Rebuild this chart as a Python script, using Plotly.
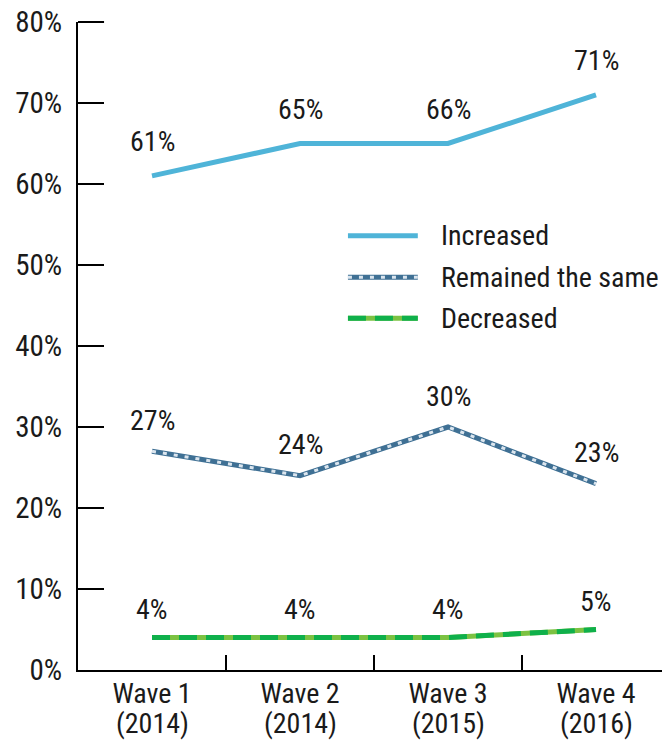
import plotly.graph_objects as go

categories = ["Wave 1", "Wave 2", "Wave 3", "Wave 4"]
years = ["(2014)", "(2014)", "(2015)", "(2016)"]
increased = [61, 65, 65, 71]
increased_labels = ["61%", "65%", "66%", "71%"]
remained = [27, 24, 30, 23]
remained_labels = ["27%", "24%", "30%", "23%"]
decreased = [4, 4, 4, 5]
decreased_labels = ["4%", "4%", "4%", "5%"]
y_ticks = [0, 10, 20, 30, 40, 50, 60, 70, 80]
y_tick_labels = [f"{v}%" for v in y_ticks]

FONT = "Roboto Condensed, Liberation Sans, sans-serif"
TXT = "#1a1a1a"
C_INC = "#4fb4d8"
C_REM = "#3f7094"
C_REM_DOT = "#dbe5ee"
C_DEC_BASE = "#7cc242"
C_DEC_DASH = "#0fb04b"

fig = go.Figure()
fig.add_trace(go.Scatter(x=categories, y=increased, mode="lines",
                         line=dict(color=C_INC, width=5), showlegend=False, hoverinfo="skip"))
fig.add_trace(go.Scatter(x=categories, y=remained, mode="lines",
                         line=dict(color=C_REM, width=5), showlegend=False, hoverinfo="skip"))
fig.add_trace(go.Scatter(x=categories, y=remained, mode="lines",
                         line=dict(color=C_REM_DOT, width=3, dash="4px,7px"), showlegend=False, hoverinfo="skip"))
fig.add_trace(go.Scatter(x=categories, y=decreased, mode="lines",
                         line=dict(color=C_DEC_BASE, width=5), showlegend=False, hoverinfo="skip"))
fig.add_trace(go.Scatter(x=categories, y=decreased, mode="lines",
                         line=dict(color=C_DEC_DASH, width=5, dash="18px,9px"), showlegend=False, hoverinfo="skip"))

annotations = []
for vals, labs, shift in [(increased, increased_labels, 34),
                          (remained, remained_labels, 31),
                          (decreased, decreased_labels, 28)]:
    for c, v, t in zip(categories, vals, labs):
        annotations.append(dict(x=c, y=v, text=t, showarrow=False, yshift=shift,
                                font=dict(family=FONT, size=28, color=TXT)))

# second line of x labels
for c, yr in zip(categories, years):
    annotations.append(dict(x=c, xref="x", yref="paper", y=0, yanchor="middle", yshift=-53,
                            text=yr, showarrow=False, font=dict(family=FONT, size=28, color=TXT)))

# legend drawn manually
legend_items = [("Increased", [(C_INC, 5, "solid")], 0.670),
                ("Remained the same", [(C_REM, 5, "solid"), (C_REM_DOT, 3, "4px,7px")], 0.606),
                ("Decreased", [(C_DEC_BASE, 5, "solid"), (C_DEC_DASH, 5, "18px,9px")], 0.543)]
shapes = []
for name, styles, ly in legend_items:
    for col, w, d in styles:
        shapes.append(dict(type="line", xref="paper", yref="paper", x0=0.456, x1=0.574,
                           y0=ly, y1=ly, line=dict(color=col, width=w, dash=d)))
    annotations.append(dict(xref="paper", yref="paper", x=0.609, y=ly, text=name,
                            showarrow=False, xanchor="left", yanchor="middle",
                            font=dict(family=FONT, size=28, color=TXT)))

# top tick mark at the axis end (plotly drops ticks at the range edge)
shapes.append(dict(type="line", xref="paper", yref="paper", x0=0, x1=0.044, y0=1, y1=1,
                   line=dict(color="black", width=2)))

fig.update_layout(
    width=662, height=732,
    margin=dict(l=70, r=0, t=14, b=70),
    paper_bgcolor="white", plot_bgcolor="white",
    font=dict(family=FONT, size=28, color=TXT),
    shapes=shapes, annotations=annotations,
    xaxis=dict(type="category", range=[-0.5, 3.5], showgrid=False, zeroline=False,
               showline=True, linecolor="black", linewidth=2, automargin=False,
               ticks="inside", tickson="boundaries", ticklen=15, tickwidth=2, tickcolor="black",
               ticklabelstandoff=-3, ticklabeloverflow="allow",
               tickfont=dict(family=FONT, size=28, color=TXT)),
    yaxis=dict(range=[0, 80], tickvals=y_ticks, ticktext=y_tick_labels, showgrid=False,
               zeroline=False, showline=True, linecolor="black", linewidth=2, automargin=False,
               ticks="inside", ticklen=26, tickwidth=2, tickcolor="black",
               ticklabelstandoff=8, ticklabeloverflow="allow",
               tickfont=dict(family=FONT, size=29, color=TXT)),
)

fig.write_html("out.html")
